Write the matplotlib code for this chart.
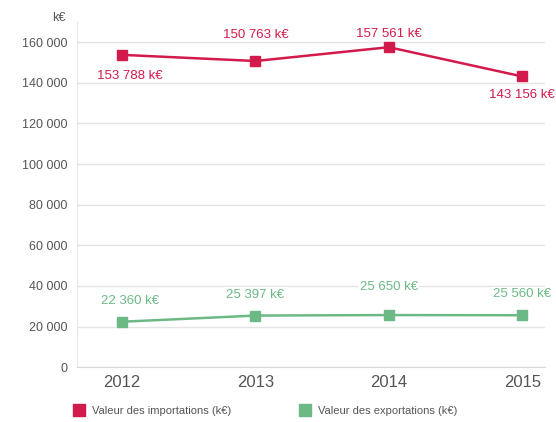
import matplotlib.pyplot as plt
from matplotlib.lines import Line2D

plt.rcParams['font.family'] = ['Liberation Sans', 'DejaVu Sans']

years = [2012, 2013, 2014, 2015]
imports = [153788, 150763, 157561, 143156]
exports = [22360, 25397, 25650, 25560]
import_labels = ['153 788 k€', '150 763 k€', '157 561 k€', '143 156 k€']
export_labels = ['22 360 k€', '25 397 k€', '25 650 k€', '25 560 k€']
yticks = [0, 20000, 40000, 60000, 80000, 100000, 120000, 140000, 160000]
ytick_labels = ['0', '20 000', '40 000', '60 000', '80 000', '100 000',
                '120 000', '140 000', '160 000']

red = '#d31a4c'
green = '#6cb986'
grey = '#555555'

fig = plt.figure(figsize=(5.56, 4.22), dpi=100)
ax = fig.add_axes([0.138, 0.130, 0.842, 0.818])

ax.plot(years, imports, color=red, lw=1.8, marker='s', ms=7.5, clip_on=False, zorder=3)
ax.plot(years, exports, color=green, lw=1.8, marker='s', ms=7.5, clip_on=False, zorder=3)

# label offsets in pixels (dx, dy)
imp_off = [(8, -21), (0, 26), (0, 13), (0, -19)]
exp_off = [(8, 21), (0, 21), (0, 28), (0, 21)]
for x, y, t, (dx, dy) in zip(years, imports, import_labels, imp_off):
    ax.annotate(t, (x, y), xytext=(dx, dy), textcoords='offset pixels',
                ha='center', va='center', color=red, fontsize=9.5,
                annotation_clip=False)
for x, y, t, (dx, dy) in zip(years, exports, export_labels, exp_off):
    ax.annotate(t, (x, y), xytext=(dx, dy), textcoords='offset pixels',
                ha='center', va='center', color=green, fontsize=9.5,
                annotation_clip=False,
                bbox=dict(fc='white', ec='none', pad=1))

ax.set_xlim(2011.66, 2015.17)
ax.set_ylim(0, 170000)
ax.set_xticks(years)
ax.set_xticklabels([str(y) for y in years], fontsize=12, color=grey)
ax.set_yticks(yticks)
ax.set_yticklabels(ytick_labels, fontsize=9, color=grey)
ax.tick_params(length=0, pad=7)
ax.tick_params(axis='x', pad=6)
ax.grid(axis='y', color='#e4e4e4', lw=1)
ax.set_axisbelow(True)
for s in ['top', 'right']:
    ax.spines[s].set_visible(False)
ax.spines['left'].set_color('#e8e8e8')
ax.spines['bottom'].set_color('#d8d8d8')

fig.text(0.117, 0.958, 'k€', ha='right', va='center', fontsize=9, color=grey)

handles = [Line2D([], [], ls='none', marker='s', ms=9, color=red),
           Line2D([], [], ls='none', marker='s', ms=9, color=green)]
fig.legend(handles, ['Valeur des importations (k€)', 'Valeur des exportations (k€)'],
           loc='center left', bbox_to_anchor=(0.115, 0.027), ncol=2, frameon=False,
           fontsize=8, labelcolor=grey, handletextpad=0.6, columnspacing=6.2,
           handlelength=1)

fig.savefig('out.png', dpi=100)
